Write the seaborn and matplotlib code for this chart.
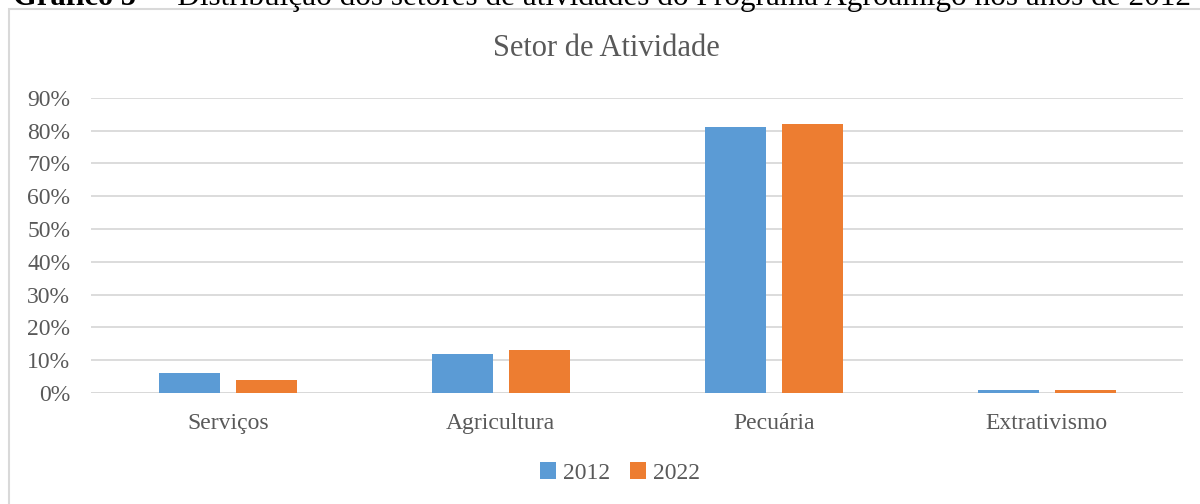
import matplotlib
matplotlib.use('Agg')
import matplotlib.pyplot as plt
import matplotlib.patches as mpatches
from matplotlib.ticker import PercentFormatter
import seaborn as sns
import pandas as pd

# data
setores = ['Serviços', 'Agricultura', 'Pecuária', 'Extrativismo']
anos = ['2012', '2022']
valores_2012 = [6, 12, 81, 1]
valores_2022 = [4, 13, 82, 1]

df = pd.DataFrame({
    'Setor': setores * 2,
    'Ano': [anos[0]] * len(setores) + [anos[1]] * len(setores),
    'Valor': valores_2012 + valores_2022,
})

sns.set_theme(style='white')
plt.rcParams['font.family'] = ['Liberation Serif', 'DejaVu Serif']
gray = '#595959'
grid = '#D9D9D9'

fig = plt.figure(figsize=(12, 5.04), dpi=100)
ax = fig.add_axes([0.076, 0.220, 0.910, 0.586])

sns.barplot(data=df, x='Setor', y='Valor', hue='Ano', order=setores, hue_order=anos,
            palette=['#5B9BD5', '#ED7D31'], width=0.564, gap=0.21,
            saturation=1, linewidth=0, ax=ax, legend=True)

ax.set_ylim(0, 90)
ax.set_yticks(range(0, 91, 10))
ax.yaxis.set_major_formatter(PercentFormatter(decimals=0))
ax.grid(axis='y', color=grid, linewidth=1.3)
ax.set_axisbelow(True)
for s in ax.spines.values():
    s.set_visible(False)
ax.axhline(0, color=grid, linewidth=1.3, zorder=0.5)
ax.set_xlim(-0.5, 3.5)
ax.set_xlabel('')
ax.set_ylabel('')
ax.tick_params(axis='y', length=0, pad=15, labelsize=17, labelcolor=gray)
ax.tick_params(axis='x', length=0, pad=14, labelsize=17, labelcolor=gray)

ax.legend(loc='center', ncol=2, frameon=False, fontsize=17, labelcolor=gray,
          handlelength=0.7, handleheight=0.7, handletextpad=0.3, columnspacing=0.8)
ax.get_legend().set_bbox_to_anchor((620 / 1200, 1 - 473 / 504), transform=fig.transFigure)

fig.text(0.505, 1 - 48 / 504, 'Setor de Atividade', ha='center', va='center',
         fontsize=22, color=gray)

# chart frame
fig.add_artist(mpatches.Rectangle((9 / 1200, -0.05), 1.2, 1 - 9 / 504 + 0.05,
                                  transform=fig.transFigure, fill=False,
                                  edgecolor=grid, linewidth=1.5))

# document caption, mostly cut off at the top of the image (as in the source page)
fig.text(13 / 1200, 1 - 5 / 504, 'Gráfico 5', fontsize=22, fontweight='bold',
         va='baseline', ha='left', color='black')
fig.text(146 / 1200, 1 - 5 / 504,
         '–  Distribuição dos setores de atividades do Programa Agroamigo nos anos de 2012 e 2022',
         fontsize=22.5, va='baseline', ha='left', color='black')

fig.savefig('out.png', dpi=100)
